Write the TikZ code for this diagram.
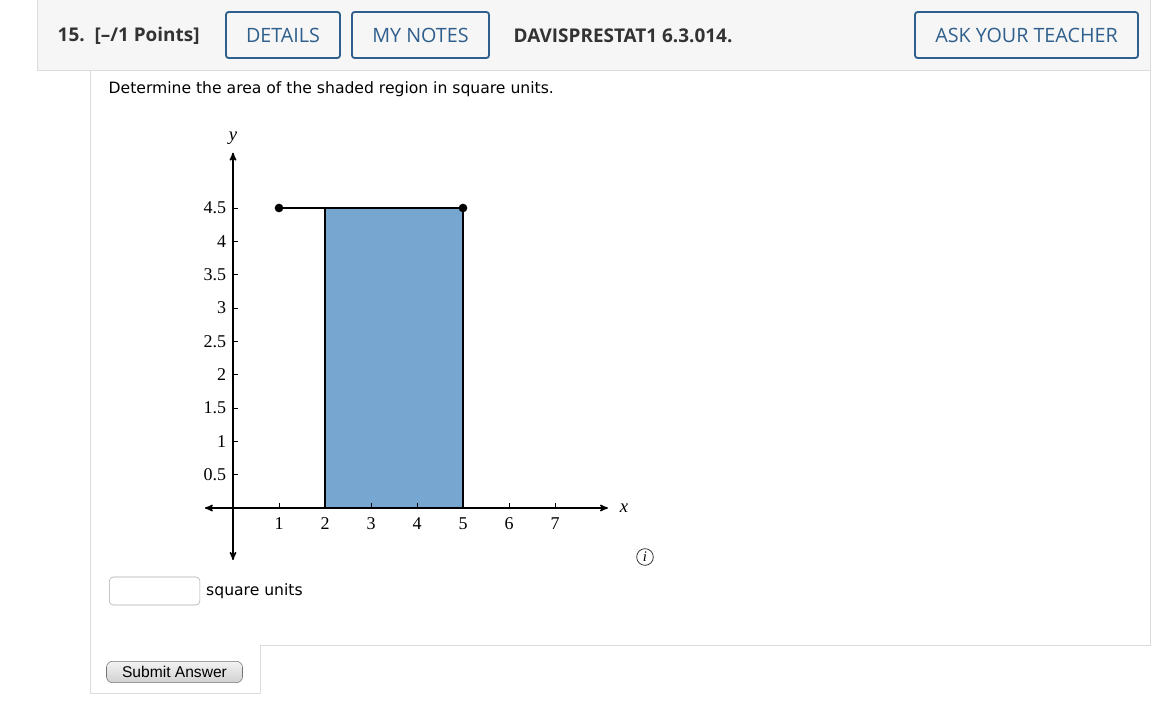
\documentclass[tikz,border=0pt]{standalone}
\usepackage{fontspec}
\setmainfont{Liberation Serif}
\newfontfamily\uifont{Open Sans}
\newfontfamily\bodyfont{DejaVu Sans}
\newfontfamily\btnfont{Liberation Sans}
\usetikzlibrary{arrows,positioning}
\definecolor{btnblue}{HTML}{2F5F8C}
\definecolor{barfill}{HTML}{F6F6F6}
\definecolor{barline}{HTML}{DCDCDC}
\definecolor{shadeblue}{HTML}{77A7D1}
\definecolor{txtgray}{HTML}{333333}
\definecolor{boxgray}{HTML}{AAAAAA}

\begin{document}
\begin{tikzpicture}[x=0.75pt,y=-0.75pt,>=stealth',
                    ui button/.style={draw=btnblue,line width=1.4pt,rounded corners=2pt,text=btnblue,
                                      font=\uifont\fontsize{14.8}{17}\selectfont,minimum height=34.5pt},
                    head text/.style={anchor=west,text=txtgray,font=\uifont\bfseries\fontsize{14.2}{17}\selectfont},
                    body text/.style={anchor=west,text=black,font=\bodyfont\fontsize{11.7}{14}\selectfont},
                    tick label/.style={font=\fontsize{13.5}{15}\selectfont,inner sep=1pt,text=black},
                    axis/.style={<->,line width=1.1pt},
                    bar edge/.style={line width=2.2pt},
                    end dot/.style={circle,fill=black,inner sep=0pt,minimum size=6.5pt}]
\useasboundingbox (0,0) rectangle (1170,711);

% header bar
\draw[barline,fill=barfill] (37,-2) rectangle (1150,70);
\node[head text] (num) at (53,36) {15.\ \ [–/1 Points]};
\node[ui button,minimum width=85.5pt] (details) at (283,35) {DETAILS};
\node[ui button,minimum width=102.75pt] (notes) at (420.5,35) {MY NOTES};
\node[head text] (code) at (509,36) {DAVISPRESTAT1 6.3.014.};
\node[ui button,minimum width=167.25pt] (ask) at (1026.5,35) {ASK YOUR TEACHER};

% question frame
\draw[barline] (90,70) -- (90,693) -- (260,693) -- (260,645) -- (1150,645) -- (1150,70);
\node[body text] (prompt) at (104,89) {Determine the area of the shaded region in square units.};

% graph
\coordinate (O) at (233,508);
\begin{scope}[shift={(O)},x=34.5pt,y=50pt]
  \fill[shadeblue] (2,0) rectangle (5,4.5);
  \coordinate (xl) at (-0.61,0);
  \coordinate (xr) at (8.15,0);
  \coordinate (yb) at (0,-0.78);
  \coordinate (yt) at (0,5.33);
  \draw[axis] (xl) -- (xr);
  \draw[axis] (yb) -- (yt);
  \node[font=\itshape\fontsize{14}{16}\selectfont] (xname) at (8.5,0) {x};
  \node[font=\itshape\fontsize{14}{16}\selectfont] (yname) at (0,5.55) {y};
  \foreach \i in {1,...,7}
    {\draw[line width=0.7pt] (\i,0) -- ++(0,4pt);
     \node[tick label,below=6pt] (xt\i) at (\i,0) {\i};}
  \foreach \v/\t in {0.5/0.5,1/1,1.5/1.5,2/2,2.5/2.5,3/3,3.5/3.5,4/4,4.5/4.5}
    {\draw[line width=0.7pt] (0,\v) -- ++(4pt,0);
     \node[tick label,left=4pt] (yt\t) at (0,\v) {\t};}
  \coordinate (b2) at (2,0);
  \coordinate (t2) at (2,4.5);
  \coordinate (b5) at (5,0);
  \node[end dot] (p1) at (1,4.5) {};
  \node[end dot] (p5) at (5,4.5) {};
  \draw[bar edge] (b2) -- (t2);
  \draw[bar edge] (b5) -- (p5.center);
  \draw[bar edge] (p1.center) -- (p5.center);
\end{scope}

% info icon
\node[circle,draw=txtgray,line width=0.6pt,minimum size=12.5pt,inner sep=0pt,
      font=\itshape\fontsize{11}{12}\selectfont] (info) at (645,557) {i};

% answer line
\node[draw=boxgray,rounded corners=3pt,minimum width=68pt,minimum height=21pt,anchor=west] (answer) at (109,591) {};
\node[body text,right=1pt of answer] (units) {square units};

% submit
\node[draw=black!55,rounded corners=4.5pt,top color=black!5,bottom color=black!18,
      minimum width=102pt,minimum height=16pt,inner sep=0pt,
      font=\btnfont\fontsize{11.7}{13}\selectfont] (submit) at (174.5,672) {Submit Answer};
\end{tikzpicture}
\end{document}
